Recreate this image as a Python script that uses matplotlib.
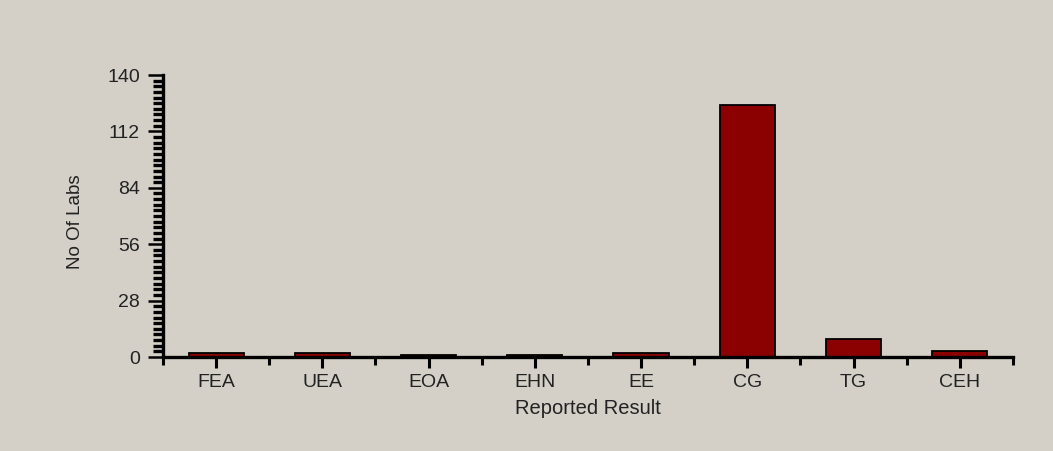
import matplotlib.pyplot as plt
from matplotlib.ticker import MultipleLocator, FixedLocator

# 各カテゴリのラボ数
categories = ["FEA", "UEA", "EOA", "EHN", "EE", "CG", "TG", "CEH"]
n_labs = [2, 2, 1, 1, 2, 125, 9, 3]
y_ticks = [0, 28, 56, 84, 112, 140]

bg = "#d4d0c8"
plt.rcParams["font.family"] = ["Liberation Sans", "DejaVu Sans"]

fig = plt.figure(figsize=(10.53, 4.51), dpi=100, facecolor=bg)
ax = fig.add_axes([0.1548, 0.2084, 0.8072, 0.6253], facecolor=bg)

x = list(range(len(categories)))
ax.bar(x, n_labs, width=0.52, color="#8b0000", edgecolor="black",
       linewidth=1.3, zorder=3)

ax.set_xlim(-0.5, len(categories) - 0.5)
ax.set_ylim(0, 140)
ax.set_xticks(x)
ax.set_xticklabels(categories)
ax.xaxis.set_minor_locator(FixedLocator([i - 0.5 for i in range(len(categories) + 1)]))
ax.set_yticks(y_ticks)
ax.yaxis.set_minor_locator(MultipleLocator(2.8))

for s in ["top", "right"]:
    ax.spines[s].set_visible(False)
for s in ["left", "bottom"]:
    ax.spines[s].set_linewidth(2.4)
    ax.spines[s].set_color("black")
ax.spines["bottom"].set_zorder(4)

ax.tick_params(axis="y", which="major", length=11, width=1.8, direction="out",
               labelsize=14, labelcolor="#222222", pad=5.5)
ax.tick_params(axis="y", which="minor", length=7, width=2.4, direction="out")
ax.tick_params(axis="x", which="major", length=8, width=2.2, direction="out",
               labelsize=14, labelcolor="#222222", pad=4)
ax.tick_params(axis="x", which="minor", length=5.5, width=2.2, direction="out")

ax.set_xlabel("Reported Result", fontsize=14.5, color="#222222")
ax.set_ylabel("No Of Labs", fontsize=13.5, color="#222222")
ax.xaxis.set_label_coords(0.5, -0.15)
ax.yaxis.set_label_coords(-0.093, 0.48)

plt.savefig("out.png", dpi=100, facecolor=bg)
